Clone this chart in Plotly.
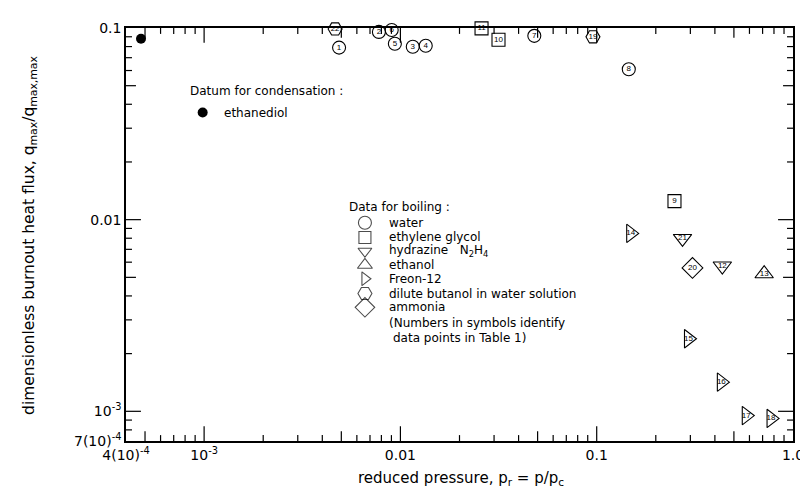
import math
import plotly.graph_objects as go

# ---------------- data ----------------
water_ids = ["1", "2", "3", "4", "5", "6", "7", "8"]
water_pr = [4.87e-3, 7.77e-3, 0.01156, 0.01346, 9.37e-3, 9.03e-3, 0.0481, 0.1457]
water_q = [0.0790, 0.0954, 0.0799, 0.0808, 0.0828, 0.0977, 0.0910, 0.0609]

glycol_ids = ["9", "10", "11"]
glycol_pr = [0.249, 0.0316, 0.0259]
glycol_q = [0.0125, 0.0868, 0.0995]

hydrazine_ids = ["12", "21"]
hydrazine_pr = [0.4365, 0.2736]
hydrazine_q = [0.00573, 0.00798]

ethanol_ids = ["13"]
ethanol_pr = [0.713]
ethanol_q = [0.00522]

freon_ids = ["14", "15", "16", "17", "18"]
freon_pr = [0.149, 0.2935, 0.4315, 0.578, 0.773]
freon_q = [0.00848, 0.00239, 0.00142, 0.00095, 0.000918]

butanol_ids = ["19", "22"]
butanol_pr = [0.0957, 4.65e-3]
butanol_q = [0.0899, 0.0989]

ammonia_ids = ["20"]
ammonia_pr = [0.3076]
ammonia_q = [0.00560]

ethanediol_pr = [4.77e-4]
ethanediol_q = [0.0878]

x_tickvals = [4e-4, 1e-3, 0.01, 0.1, 1.0]
x_ticktext = ["4(10)<sup>-4</sup>", "10<sup>-3</sup>", "0.01", "0.1", "1.0"]
y_tickvals = [7e-4, 1e-3, 0.01, 0.1]
y_ticktext = ["7(10)<sup>-4</sup>", "10<sup>-3</sup>", "0.01", "0.1"]

legend_labels = ["water", "ethylene glycol", "hydrazine   N<sub>2</sub>H<sub>4</sub>",
                 "ethanol", "Freon-12", "dilute butanol in water solution", "ammonia"]

# ---------------- layout geometry ----------------
W, H = 808, 497
L, R, T, B = 118, 20, 13, 64
PW, PH = W - L - R, H - T - B
FONT = "DejaVu Sans, Verdana, sans-serif"
XR = [math.log10(4e-4), 0]
YR = [math.log10(7e-4), -1]


def px(x):
    return (x - L) / PW


def py(y):
    return (H - B - y) / PH


def dx(x):  # pixel -> data value on the log x axis (for key glyphs only)
    return 10 ** (XR[0] + px(x) * (XR[1] - XR[0]))


def dy(y):
    return 10 ** (YR[0] + py(y) * (YR[1] - YR[0]))


fig = go.Figure()

groups = [
    (water_ids, water_pr, water_q, "circle-open", 13),
    (glycol_ids, glycol_pr, glycol_q, "square-open", 13),
    (hydrazine_ids, hydrazine_pr, hydrazine_q, "triangle-down-open", 16),
    (ethanol_ids, ethanol_pr, ethanol_q, "triangle-up-open", 16),
    (freon_ids, freon_pr, freon_q, "triangle-right-open", 16),
    (butanol_ids, butanol_pr, butanol_q, "hexagon2-open", 14),
    (ammonia_ids, ammonia_pr, ammonia_q, "diamond-open", 16),
]
for ids, xs, ys, sym, sz in groups:
    fig.add_trace(go.Scatter(
        x=xs, y=ys, text=ids, mode="markers+text", textposition="middle center",
        textfont=dict(family="Liberation Sans, Arial", size=8, color="black"),
        marker=dict(symbol=sym, size=sz, color="black", line=dict(width=1.1, color="black")),
        cliponaxis=False, showlegend=False, hoverinfo="skip"))

fig.add_trace(go.Scatter(
    x=ethanediol_pr, y=ethanediol_q, mode="markers",
    marker=dict(symbol="circle", size=10, color="black"),
    cliponaxis=False, showlegend=False, hoverinfo="skip"))

# ---------------- key glyphs ----------------
key_syms = ["circle-open", "square-open", "triangle-down-open", "triangle-up-open",
            "triangle-right-open", "hexagon2-open", "diamond-open"]
key_sizes = [13, 12, 12, 13, 12, 14, 15]
key_rows = [211, 226, 240, 254, 268, 283, 297]
fig.add_trace(go.Scatter(
    x=[dx(358)] * len(key_rows), y=[dy(r) for r in key_rows], mode="markers",
    marker=dict(symbol=key_syms, size=key_sizes, color="black", line=dict(width=1.1, color="black")),
    showlegend=False, hoverinfo="skip"))
fig.add_trace(go.Scatter(
    x=[dx(195)], y=[dy(99)], mode="markers",
    marker=dict(symbol="circle", size=10, color="black"),
    showlegend=False, hoverinfo="skip"))

ann = []
tf = dict(family=FONT, size=12, color="black")


def text(x, y, s, **kw):
    d = dict(x=px(x), y=py(y), xref="paper", yref="paper", text=s, showarrow=False,
             xanchor="left", yanchor="middle", font=tf)
    d.update(kw)
    ann.append(d)


text(180, 77, "Datum for condensation :")
text(214, 99, "ethanediol")
text(340, 195, "Data for boiling :")
for lab, r in zip(legend_labels, key_rows):
    text(380, r, lab)
text(380, 313, "(Numbers in symbols identify")
text(384, 328, "data points in Table 1)")

# axis titles
text(455, 471, "reduced pressure, p<sub>r</sub> = p/p<sub>c</sub>", xanchor="center",
     font=dict(family=FONT, size=15, color="black"))
text(22, 224, "dimensionless burnout heat flux, q<sub>max</sub>/q<sub>max,max</sub>",
     xanchor="center", textangle=-90, font=dict(family=FONT, size=15.5, color="black"))

# ---------------- tick marks (inside, on all four sides) ----------------
x_major = [1e-3, 1e-2, 1e-1]
y_major = [1e-3, 1e-2]
x_mid = [5e-4, 5e-3, 5e-2, 5e-1]
y_mid = [5e-3, 5e-2]
x_minor = [m * 10.0 ** e for e in (-4, -3, -2, -1) for m in (2, 3, 4, 6, 7, 8, 9)
           if 4e-4 < m * 10.0 ** e < 1]
y_minor = [m * 10.0 ** e for e in (-4, -3, -2) for m in (2, 3, 4, 6, 7, 8, 9)
           if 7e-4 < m * 10.0 ** e < 0.1]

shapes = []
tick_line = dict(color="black", width=1.2)


def xfrac(v):
    return (math.log10(v) - XR[0]) / (XR[1] - XR[0])


def yfrac(v):
    return (math.log10(v) - YR[0]) / (YR[1] - YR[0])


for vals, ln in ((x_major, 15), (x_mid, 10), (x_minor, 6)):
    for v in vals:
        f = xfrac(v)
        for y0, y1 in ((0, ln / PH), (1, 1 - ln / PH)):
            shapes.append(dict(type="line", xref="x domain", yref="y domain",
                               x0=f, x1=f, y0=y0, y1=y1, line=tick_line))
for vals, ln in ((y_major, 15), (y_mid, 10), (y_minor, 6)):
    for v in vals:
        f = yfrac(v)
        for x0, x1 in ((0, ln / PW), (1, 1 - ln / PW)):
            shapes.append(dict(type="line", xref="x domain", yref="y domain",
                               x0=x0, x1=x1, y0=f, y1=f, line=tick_line))

axis_common = dict(
    type="log", showline=True, linecolor="black", linewidth=1.5, mirror=True,
    ticks="", showgrid=False, zeroline=False,
    tickfont=dict(family=FONT, size=14, color="black"), tickmode="array",
)

fig.update_layout(
    width=W, height=H, margin=dict(l=L, r=R, t=T, b=B),
    paper_bgcolor="white", plot_bgcolor="white",
    xaxis=dict(axis_common, range=XR, tickvals=x_tickvals, ticktext=x_ticktext),
    yaxis=dict(axis_common, range=YR, tickvals=y_tickvals, ticktext=y_ticktext),
    annotations=ann,
    shapes=shapes,
    showlegend=False,
)

fig.write_html("out.html")
